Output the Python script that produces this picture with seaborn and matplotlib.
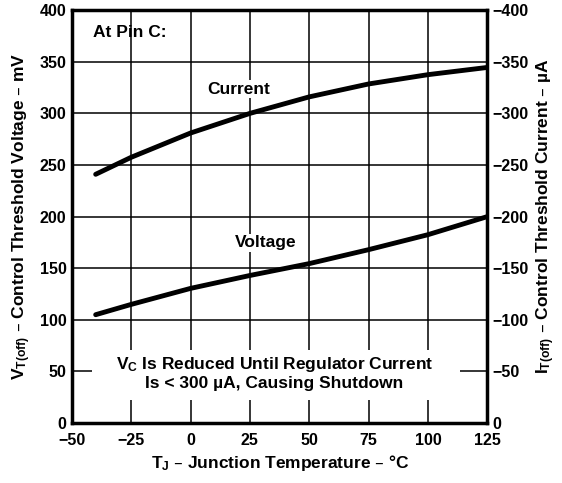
import pandas as pd
import matplotlib
matplotlib.use('Agg')
import matplotlib.pyplot as plt
import seaborn as sns
from matplotlib.patches import Rectangle

# Данные
temp = [-40, -25, 0, 25, 50, 75, 100, 125]
current_uA = [241, 257.5, 281, 300, 316, 328.5, 337.5, 344.5]
voltage_mV = [105, 115, 130.5, 143, 154.5, 168, 182.5, 200]
x_ticks = [-50, -25, 0, 25, 50, 75, 100, 125]
left_ticks = [0, 50, 100, 150, 200, 250, 300, 350, 400]
right_ticks = [0, -50, -100, -150, -200, -250, -300, -350, -400]

df = pd.DataFrame({
    'T': temp * 2,
    'val': current_uA + voltage_mV,
    'curve': ['Current'] * len(temp) + ['Voltage'] * len(temp),
})

sns.set_theme(style="white")
plt.rcParams['font.family'] = ['Liberation Sans', 'DejaVu Sans']
plt.rcParams['font.weight'] = 'bold'
plt.rcParams['mathtext.default'] = 'regular'
plt.rcParams['text.color'] = 'black'
plt.rcParams['axes.labelcolor'] = 'black'

FS_TICK = 11.5
FS_TXT = 12.5

fig = plt.figure(figsize=(5.62, 4.83), dpi=100)
ax = fig.add_axes([0.128, 0.124, 0.739, 0.855])

sns.lineplot(data=df, x='T', y='val', units='curve', estimator=None,
             color='black', linewidth=3.5, ax=ax, zorder=3)

ax.set_xlim(-50, 125)
ax.set_ylim(0, 400)
ax.set_xticks(x_ticks)
ax.set_yticks(left_ticks)
ax.set_axisbelow(True)
ax.grid(True, color='black', linewidth=1.1)
for s in ax.spines.values():
    s.set_linewidth(2.5)
    s.set_color('black')
ax.tick_params(length=0, labelsize=FS_TICK, colors='black')
ax.tick_params(axis='x', pad=7)
ax.tick_params(axis='y', pad=4)
for lbl in ax.get_xticklabels() + ax.get_yticklabels():
    lbl.set_fontweight('bold')

ax.set_xlabel('T$_J$ – Junction Temperature – °C', fontsize=FS_TXT,
              fontweight='bold', color='black', labelpad=4)
ax.set_ylabel('V$_{T(off)}$ – Control Threshold Voltage – mV', fontsize=FS_TXT,
              fontweight='bold', color='black', labelpad=5)

ax2 = ax.twinx()
ax2.set_ylim(0, -400)
ax2.set_yticks(right_ticks)
ax2.tick_params(length=0, labelsize=FS_TICK, pad=4, colors='black')
for lbl in ax2.get_yticklabels():
    lbl.set_fontweight('bold')
for s in ax2.spines.values():
    s.set_visible(False)
ax2.set_ylabel('I$_{T(off)}$ – Control Threshold Current – µA', fontsize=FS_TXT,
               fontweight='bold', color='black', rotation=90, labelpad=4)

# белая подложка под пояснением
ax.add_patch(Rectangle((-41.5, 22), 155, 49, facecolor='white',
                       edgecolor='none', zorder=1))

ax.text(-41, 378, 'At Pin C:', fontsize=FS_TXT, fontweight='bold',
        va='center', ha='left', zorder=4)
ax.text(20.3, 323.5, 'Current', fontsize=FS_TXT, fontweight='bold',
        ha='center', va='center', zorder=4,
        bbox=dict(facecolor='white', edgecolor='none', pad=1))
ax.text(31.8, 174.6, 'Voltage', fontsize=FS_TXT, fontweight='bold',
        ha='center', va='center', zorder=4,
        bbox=dict(facecolor='white', edgecolor='none', pad=1))
ax.text(35.2, 48.5, 'V$_C$ Is Reduced Until Regulator Current\nIs < 300 µA, Causing Shutdown',
        fontsize=FS_TXT, fontweight='bold', ha='center', va='center',
        linespacing=1.2, zorder=4)

fig.savefig('out.png', dpi=100)
